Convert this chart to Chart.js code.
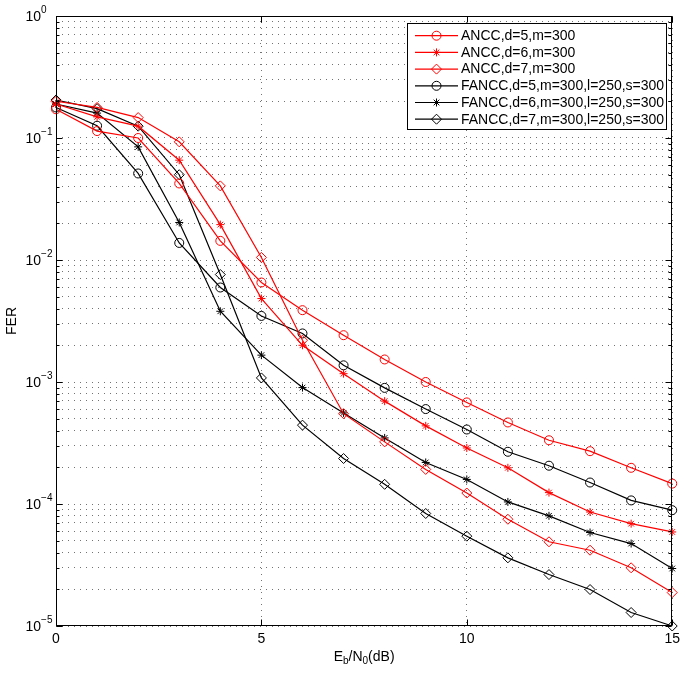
<!DOCTYPE html>
<html>
<head>
<meta charset="utf-8">
<script src="https://cdn.jsdelivr.net/npm/chart.js@4"></script>
<style>
  html, body { margin: 0; padding: 0; background: #fff; }
  #wrap { width: 685px; height: 674px; position: relative; }
</style>
</head>
<body>
<div id="wrap"><canvas id="ferChart"></canvas></div>
<script>
// Eb/N0 (dB)
const snr = [0, 1, 2, 3, 4, 5, 6, 7, 8, 9, 10, 11, 12, 13, 14, 15];

// FER values
const ancc5 = [0.172, 0.114, 0.100, 0.0424, 0.01435, 0.00654, 0.00388, 0.00242, 0.00153, 0.00100, 6.8e-4, 4.66e-4, 3.33e-4, 2.71e-4, 1.98e-4, 1.47e-4];
const ancc6 = [0.19, 0.149, 0.125, 0.0658, 0.0195, 0.00483, 0.0020, 0.00117, 6.97e-4, 4.37e-4, 2.88e-4, 1.98e-4, 1.24e-4, 8.6e-5, 6.9e-5, 5.9e-5];
const ancc7 = [0.20, 0.178, 0.147, 0.093, 0.0405, 0.0105, 0.0022, 5.5e-4, 3.23e-4, 1.92e-4, 1.23e-4, 7.5e-5, 4.9e-5, 4.18e-5, 3.0e-5, 1.88e-5];
const fancc5 = [0.178, 0.126, 0.0512, 0.0138, 0.00595, 0.00348, 0.0025, 0.00137, 8.95e-4, 6.0e-4, 4.08e-4, 2.68e-4, 2.06e-4, 1.5e-4, 1.07e-4, 8.9e-5];
const fancc6 = [0.19, 0.16, 0.0846, 0.0203, 0.0038, 0.00166, 9.0e-4, 5.58e-4, 3.48e-4, 2.19e-4, 1.59e-4, 1.04e-4, 8.0e-5, 5.84e-5, 4.74e-5, 2.96e-5];
const fancc7 = [0.205, 0.174, 0.125, 0.05, 0.0076, 0.00108, 4.43e-4, 2.36e-4, 1.45e-4, 8.36e-5, 5.45e-5, 3.62e-5, 2.64e-5, 1.99e-5, 1.29e-5, 1.0e-5];

const labels = [
  'ANCC,d=5,m=300', 'ANCC,d=6,m=300', 'ANCC,d=7,m=300',
  'FANCC,d=5,m=300,l=250,s=300', 'FANCC,d=6,m=300,l=250,s=300', 'FANCC,d=7,m=300,l=250,s=300'
];
const decades = [0, -1, -2, -3, -4, -5];
const xTicks = [0, 5, 10, 15];

const FONT = '"Liberation Sans", Arial, Helvetica, sans-serif';
const RED = '#ff0000', BLACK = '#000000';
const GRID = 'rgba(0,0,0,0.55)';

function series(label, values, color, style, radius) {
  return {
    label: label,
    data: snr.map((x, i) => ({ x: x, y: values[i] })),
    borderColor: color,
    borderWidth: 1.2,
    pointStyle: style,
    pointRadius: radius,
    pointHoverRadius: radius,
    pointBorderColor: color,
    pointBackgroundColor: 'rgba(0,0,0,0)',
    pointBorderWidth: 1,
    tension: 0,
    clip: false
  };
}

function isDecade(v) {
  const l = Math.log10(v);
  return Math.abs(l - Math.round(l)) < 1e-6;
}

// box, inward ticks, y labels with exponents, x title with subscripts, legend
const decorations = {
  id: 'decorations',
  afterDraw(chart) {
    const { ctx, chartArea: a, scales: { x, y } } = chart;
    const L = Math.round(a.left) + 0.5, R = Math.round(a.right) - 0.5;
    const T = Math.round(a.top) + 0.5, B = Math.round(a.bottom) - 0.5;
    ctx.save();
    ctx.setLineDash([]);
    ctx.strokeStyle = '#000';
    ctx.lineWidth = 1;

    // ticks inside the box
    ctx.beginPath();
    y.ticks.forEach(t => {
      const py = Math.round(y.getPixelForValue(t.value)) + 0.5;
      const len = isDecade(t.value) ? 6 : 3;
      ctx.moveTo(L, py); ctx.lineTo(L + len, py);
      ctx.moveTo(R, py); ctx.lineTo(R - len, py);
    });
    xTicks.forEach(v => {
      const px = Math.round(x.getPixelForValue(v)) + 0.5;
      ctx.moveTo(px, B); ctx.lineTo(px, B - 6);
      ctx.moveTo(px, T); ctx.lineTo(px, T + 6);
    });
    ctx.stroke();
    ctx.strokeRect(L, T, R - L, B - T);

    // y tick labels 10^k
    ctx.fillStyle = '#000';
    ctx.textAlign = 'left';
    ctx.textBaseline = 'middle';
    decades.forEach(k => {
      const py = y.getPixelForValue(Math.pow(10, k));
      ctx.font = '14px ' + FONT;
      ctx.fillText('10', 25.5, py + 1);
      const w = ctx.measureText('10').width;
      ctx.font = '10px ' + FONT;
      ctx.fillText(k === 0 ? '0' : '\u2212' + (-k), 25.5 + w, py - 5.5);
    });

    // x axis title E_b/N_0(dB)
    const parts = [['E', 14, 0], ['b', 10, 3.5], ['/N', 14, 0], ['0', 10, 3.5], ['(dB)', 14, 0]];
    let total = 0;
    parts.forEach(p => { ctx.font = p[1] + 'px ' + FONT; total += ctx.measureText(p[0]).width; });
    let cx = (a.left + a.right) / 2 - total / 2;
    ctx.textBaseline = 'alphabetic';
    parts.forEach(p => {
      ctx.font = p[1] + 'px ' + FONT;
      ctx.fillText(p[0], cx, 660.5 + p[2]);
      cx += ctx.measureText(p[0]).width;
    });

    // legend
    const bx = 407.5, by = 23.5, bw = 259, bh = 106;
    ctx.fillStyle = '#fff';
    ctx.fillRect(bx, by, bw, bh);
    ctx.strokeRect(bx, by, bw, bh);
    ctx.font = '14px ' + FONT;
    ctx.textBaseline = 'middle';
    chart.data.datasets.forEach((ds, i) => {
      const ly = 35.7 + i * 16.7;
      ctx.strokeStyle = ds.borderColor;
      ctx.lineWidth = ds.borderWidth;
      ctx.beginPath();
      ctx.moveTo(415, ly); ctx.lineTo(458, ly);
      ctx.stroke();
      ctx.lineWidth = 1;
      ctx.fillStyle = 'rgba(0,0,0,0)';
      Chart.helpers.drawPoint(ctx, { pointStyle: ds.pointStyle, radius: ds.pointRadius, borderWidth: 1, rotation: 0 }, 436.5, ly);
      ctx.fillStyle = '#000';
      ctx.fillText(ds.label, 461, ly + 0.5);
    });
    ctx.restore();
  }
};

new Chart(document.getElementById('ferChart'), {
  type: 'line',
  data: {
    datasets: [
      series(labels[0], ancc5, RED, 'circle', 4.5),
      series(labels[1], ancc6, RED, 'star', 4),
      series(labels[2], ancc7, RED, 'rectRot', 5),
      series(labels[3], fancc5, BLACK, 'circle', 4.5),
      series(labels[4], fancc6, BLACK, 'star', 4),
      series(labels[5], fancc7, BLACK, 'rectRot', 5)
    ]
  },
  options: {
    responsive: true,
    maintainAspectRatio: false,
    animation: false,
    devicePixelRatio: 1,
    layout: { padding: { left: 0, right: 12, top: 16, bottom: 0 } },
    plugins: { legend: { display: false }, tooltip: { enabled: false } },
    scales: {
      x: {
        type: 'linear',
        min: 0, max: 15,
        afterFit: s => { s.height = 48; },
        afterBuildTicks: s => { s.ticks = xTicks.map(v => ({ value: v })); },
        ticks: { stepSize: 5, padding: 5, color: '#000', font: { family: FONT, size: 14 } },
        grid: { color: GRID, lineWidth: 1, drawTicks: false },
        border: { display: false, dash: [1, 5] }
      },
      y: {
        type: 'logarithmic',
        min: 1e-5, max: 1,
        afterFit: s => { s.width = 56; },
        afterBuildTicks: s => {
          const t = [];
          decades.slice().reverse().forEach(k => {
            for (let m = 1; m <= 9; m++) {
              const v = m * Math.pow(10, k);
              if (v <= 1.0000001) t.push({ value: v });
            }
          });
          s.ticks = t;
        },
        ticks: { display: false },
        grid: { color: GRID, lineWidth: 1, drawTicks: false },
        border: { display: false, dash: [1, 5] },
        title: { display: true, text: 'FER', color: '#000', font: { family: FONT, size: 14 }, padding: { top: 4, bottom: 0 } }
      }
    }
  },
  plugins: [decorations]
});
</script>
</body>
</html>
